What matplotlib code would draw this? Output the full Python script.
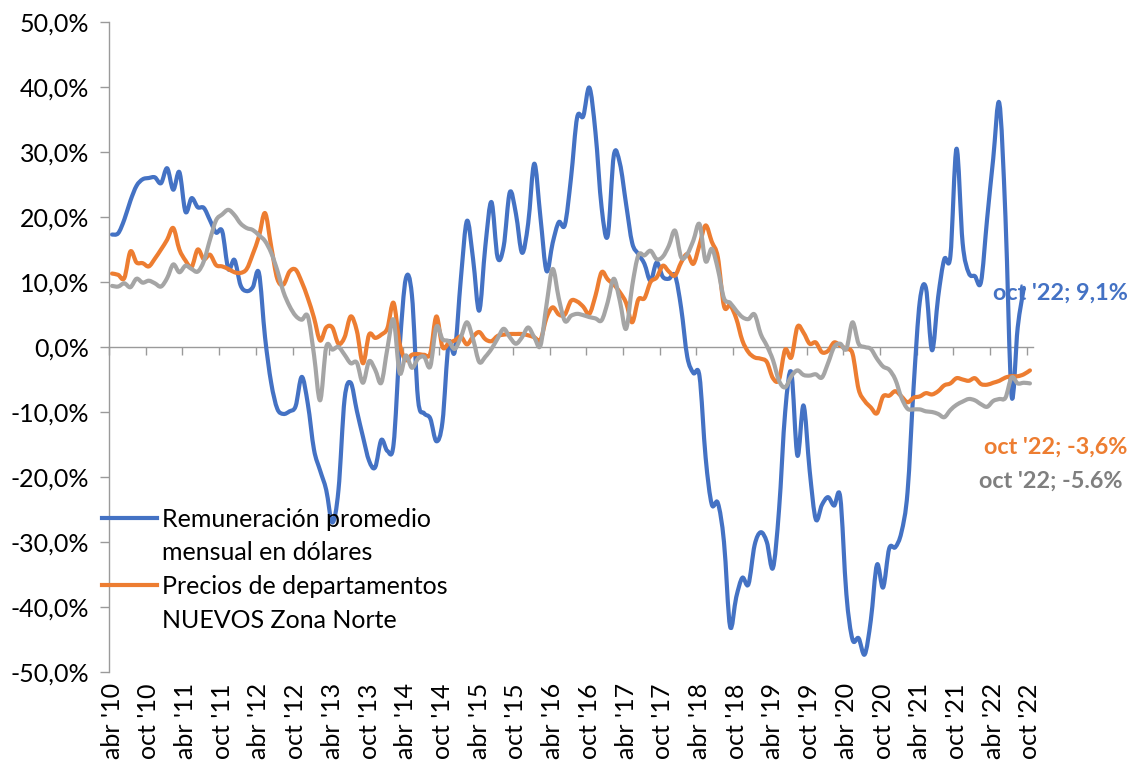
import matplotlib
matplotlib.use("Agg")
import matplotlib.pyplot as plt
from matplotlib.path import Path
from matplotlib.patches import PathPatch
from matplotlib.lines import Line2D

plt.rcParams['font.family'] = ['Lato', 'DejaVu Sans']

# Monthly series, abr '10 ... oct '22 (values in %)
remuneracion_usd = [
    17.3, 17.5, 19.6, 22.5, 24.8, 25.8, 26.0, 26.1, 25.2, 27.5,
    24.2, 26.9, 20.8, 22.9, 21.5, 21.4, 19.5, 17.6, 17.8, 12.0,
    13.4, 9.5, 8.6, 9.2, 11.4, 1.5, -5.5, -9.5, -10.3, -9.9,
    -9.1, -4.6, -8.8, -15.8, -19.0, -22.0, -27.0, -22.0, -8.0, -5.5,
    -9.8, -13.8, -17.5, -18.5, -14.3, -16.0, -15.0, 0.0, 10.5, 8.0,
    -8.0, -10.2, -11.0, -14.5, -11.5, 0.5, -0.7, 10.5, 19.4, 13.5,
    5.6, 15.5, 22.3, 13.8, 15.5, 23.8, 20.5, 14.5, 19.0, 28.2,
    20.0, 11.7, 16.0, 19.2, 18.8, 26.0, 35.3, 35.5, 39.9, 33.0,
    21.5, 17.1, 29.5, 28.2, 22.0, 16.0, 14.3, 12.8, 10.2, 13.0,
    10.8, 10.5, 11.0, 6.0, -1.5, -4.0, -4.5, -17.0, -24.2, -24.0,
    -30.0, -43.0, -38.5, -35.5, -36.5, -30.5, -28.5, -30.0, -34.0, -25.0,
    -10.0, -3.9, -16.7, -9.0, -19.0, -26.5, -24.3, -23.1, -24.4, -23.1,
    -38.0, -45.0, -44.8, -47.3, -42.0, -33.5, -37.0, -31.0, -30.8, -28.5,
    -22.3, -6.0, 7.0, 9.1, -0.5, 7.7, 13.5, 14.0, 30.5, 16.0,
    11.4, 10.9, 10.0, 19.7, 29.0, 37.5, 20.0, -7.5, 3.0, 9.1,
]

precios_nuevos_norte = [
    11.3, 11.1, 10.6, 14.7, 13.0, 12.9, 12.4, 13.6, 15.0, 16.5,
    18.3, 15.0, 13.3, 12.3, 15.0, 13.5, 14.2, 12.6, 12.4, 12.0,
    11.5, 11.4, 12.0, 14.3, 17.0, 20.6, 15.5, 10.5, 9.6, 11.6,
    11.9, 10.0, 7.5, 4.5, 1.0, 3.0, 3.0, 0.5, 1.5, 4.7,
    2.5, -2.5, 1.9, 1.4, 1.9, 2.9, 6.8, 0.5, -2.0, -1.2,
    -1.1, -1.2, -1.0, 4.7, 0.0, 0.6, 1.0, 1.6, 0.4, 1.6,
    2.3, 1.2, 0.9, 1.7, 1.9, 2.0, 2.0, 2.0, 1.8, 1.5,
    1.1, 4.5, 6.1, 5.0, 5.0, 7.1, 7.0, 6.2, 5.1, 7.9,
    11.5, 10.4, 9.6, 8.4, 6.8, 3.8, 7.3, 7.5, 10.0, 10.7,
    12.5, 11.6, 11.0, 13.0, 14.3, 12.8, 15.7, 18.7, 16.2, 13.8,
    6.3, 6.4, 4.4, 1.0, -0.8, -1.6, -1.8, -2.3, -4.8, -5.0,
    -0.4, -1.6, 3.1, 2.2, 0.5, 0.7, -0.8, -0.6, 0.7, 0.2,
    -0.3, -1.0, -6.5, -8.3, -9.3, -10.2, -7.6, -7.5, -6.8, -7.6,
    -8.5, -7.8, -7.6, -7.1, -7.3, -6.8, -5.9, -5.6, -4.8, -5.0,
    -5.2, -4.8, -5.7, -5.8, -5.5, -5.2, -4.7, -4.5, -4.5, -4.2,
    -3.6,
]

serie_gris = [
    9.4, 9.3, 9.8, 9.2, 10.5, 9.9, 10.2, 9.8, 9.3, 10.6,
    12.7, 11.5, 12.5, 12.0, 11.6, 13.2, 16.5, 19.5, 20.4, 21.1,
    20.3, 19.0, 18.3, 18.0, 17.2, 16.3, 14.5, 11.8, 8.5, 6.3,
    4.8, 4.2, 4.7, -1.2, -8.2, 0.0, -0.4, 0.0, -1.2, -2.5,
    -2.4, -5.5, -2.2, -3.5, -5.5, -0.2, 4.2, -4.0, -1.3, -3.2,
    -1.8, -1.5, -3.0, 3.1, 1.2, 0.9, -0.3, 1.5, 3.8, 1.2,
    -2.3, -1.5, -0.3, 1.3, 2.8, 1.5, 0.5, 1.5, 3.0, 1.5,
    0.2, 6.5, 12.0, 7.5, 4.0, 4.8, 5.1, 4.9, 4.6, 4.4,
    4.1, 6.9, 10.5, 7.0, 2.8, 9.4, 14.1, 14.1, 14.8, 13.5,
    13.9, 15.6, 17.9, 13.8, 14.3, 16.4, 18.9, 13.2, 15.1, 12.0,
    7.5, 6.8, 5.6, 4.6, 4.3, 5.0, 2.0, 0.2, -2.0, -5.2,
    -6.2, -4.5, -3.6, -4.3, -4.4, -4.2, -4.7, -2.5, 0.0, 0.5,
    -0.3, 3.8, 0.5, 0.0, -0.3, -1.8, -3.0, -3.5, -5.0, -7.8,
    -9.5, -9.6, -9.6, -9.9, -10.0, -10.3, -10.8, -9.7, -8.9, -8.4,
    -8.0, -8.2, -8.8, -9.2, -8.3, -8.0, -7.8, -4.7, -5.6, -5.5,
    -5.6,
]

x_tick_labels = [
    "abr '10", "oct '10", "abr '11", "oct '11", "abr '12", "oct '12",
    "abr '13", "oct '13", "abr '14", "oct '14", "abr '15", "oct '15",
    "abr '16", "oct '16", "abr '17", "oct '17", "abr '18", "oct '18",
    "abr '19", "oct '19", "abr '20", "oct '20", "abr '21", "oct '21",
    "abr '22", "oct '22",
]
y_ticks = [-50, -40, -30, -20, -10, 0, 10, 20, 30, 40, 50]
y_tick_labels = ["-50,0%", "-40,0%", "-30,0%", "-20,0%", "-10,0%", "0,0%",
                 "10,0%", "20,0%", "30,0%", "40,0%", "50,0%"]

legend_labels = ["Remuneración promedio", "mensual en dólares",
                 "Precios de departamentos", "NUEVOS Zona Norte"]
end_labels = ["oct '22; 9,1%", "oct '22; -3,6%", "oct '22; -5.6%"]

BLUE = '#4472C4'
ORANGE = '#ED7D31'
GRAY = '#A5A5A5'
AXIS = '#9A9A9A'
LW = 3.0
FS = 18
FS_END = 16.8


def smooth_path(ys):
    xs = list(range(len(ys)))
    verts = [(xs[0], ys[0])]
    codes = [Path.MOVETO]
    n = len(xs)
    for i in range(n - 1):
        i0 = max(i - 1, 0)
        i3 = min(i + 2, n - 1)
        c1 = (xs[i] + (xs[i + 1] - xs[i0]) / 6.0, ys[i] + (ys[i + 1] - ys[i0]) / 6.0)
        c2 = (xs[i + 1] - (xs[i3] - xs[i]) / 6.0, ys[i + 1] - (ys[i3] - ys[i]) / 6.0)
        verts += [c1, c2, (xs[i + 1], ys[i + 1])]
        codes += [Path.CURVE4] * 3
    return Path(verts, codes)


fig = plt.figure(figsize=(11.34, 7.65), dpi=100)
ax = fig.add_axes([109 / 1134, 1 - 672 / 765, (1033 - 109) / 1134, (672 - 22) / 765])

for series, color, z in [(remuneracion_usd, BLUE, 3), (precios_nuevos_norte, ORANGE, 4), (serie_gris, GRAY, 5)]:
    ax.add_patch(PathPatch(smooth_path(series), facecolor='none', edgecolor=color,
                           lw=LW, capstyle='round', joinstyle='round', zorder=z))

ax.set_xlim(-0.5, 150.5)
ax.set_ylim(-50, 50)

for s in ['top', 'right', 'bottom']:
    ax.spines[s].set_visible(False)
ax.spines['left'].set_color(AXIS)
ax.spines['left'].set_linewidth(1.0)

ax.set_yticks(y_ticks)
ax.set_yticklabels(y_tick_labels, fontsize=FS)
ax.tick_params(axis='y', direction='out', length=6.5, color=AXIS, width=1.0, pad=8)

ax.set_xticks([6 * k for k in range(len(x_tick_labels))])
ax.set_xticklabels(x_tick_labels, rotation=90, fontsize=FS, va='top', ha='center')
ax.tick_params(axis='x', length=0, pad=8)

zero_axis = ax.secondary_xaxis(0.49999)
zero_axis.spines['bottom'].set_color(AXIS)
zero_axis.spines['bottom'].set_linewidth(1.0)
zero_axis.set_xticks([6 * k - 0.5 for k in range(len(x_tick_labels))])
zero_axis.set_xticklabels([])
zero_axis.tick_params(axis='x', direction='out', length=6, color=AXIS, width=1.0)

handles = [Line2D([], [], color=BLUE, lw=LW),
           Line2D([], [], color='none', lw=LW),
           Line2D([], [], color=ORANGE, lw=LW),
           Line2D([], [], color='none', lw=LW)]
fig.legend(handles, legend_labels, loc='upper left',
           bbox_to_anchor=(102 / 1134, 1 - 508 / 765), frameon=False,
           fontsize=FS, handlelength=2.2, handletextpad=0.22,
           labelspacing=0.42, borderpad=0, borderaxespad=0)

last_b = len(remuneracion_usd) - 1
last_o = len(precios_nuevos_norte) - 1
last_g = len(serie_gris) - 1
ax.annotate(end_labels[0], xy=(last_b, remuneracion_usd[-1]), xytext=(-31, -5),
            textcoords='offset pixels', ha='left', va='center',
            fontsize=FS_END, fontweight='bold', color=BLUE, zorder=6, annotation_clip=False)
ax.annotate(end_labels[1], xy=(last_o, precios_nuevos_norte[-1]), xytext=(-46, -77),
            textcoords='offset pixels', ha='left', va='center',
            fontsize=FS_END, fontweight='bold', color=ORANGE, zorder=6, annotation_clip=False)
ax.annotate(end_labels[2], xy=(last_g, serie_gris[-1]), xytext=(-51, -98),
            textcoords='offset pixels', ha='left', va='center',
            fontsize=FS_END, fontweight='bold', color='#7F7F7F', zorder=6, annotation_clip=False)

fig.savefig('out.png', dpi=100)
